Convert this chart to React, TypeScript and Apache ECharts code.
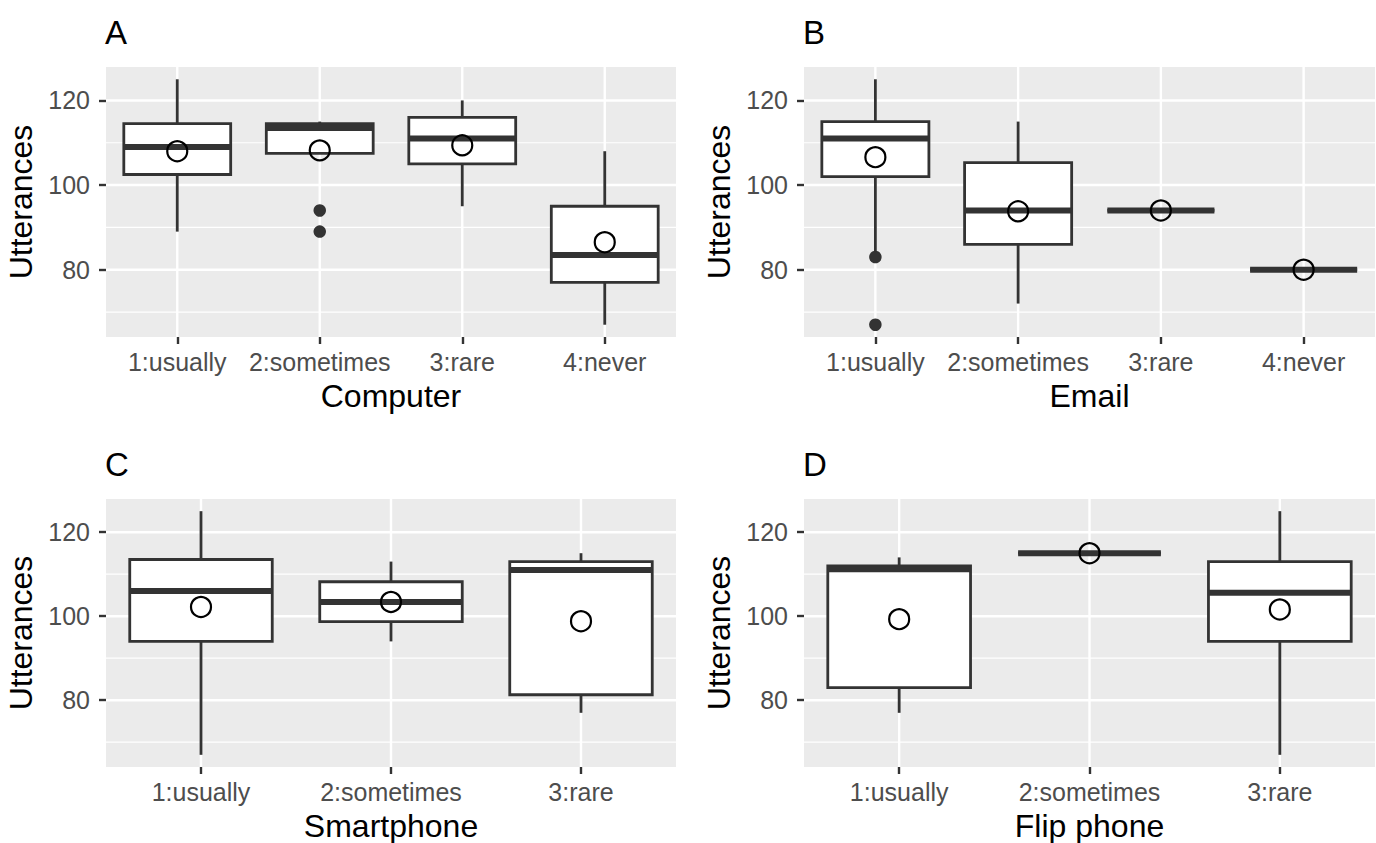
import React, { useEffect, useRef } from "react";
import * as echarts from "echarts";

// ---------- data ----------
const catsFour = ["1:usually", "2:sometimes", "3:rare", "4:never"];
const catsThree = ["1:usually", "2:sometimes", "3:rare"];

// box stats: [min, q1, median, q3, max]
const computerBoxes = [
  [89, 102.5, 109, 114.5, 125],
  [107.5, 107.5, 113.5, 114.5, 115],
  [95, 105, 111, 116, 120],
  [67, 77, 83.5, 95, 108],
];
const computerOutliers = [[1, 94], [1, 89]];
const computerMeans = [108, 108.2, 109.4, 86.5];

const emailBoxes = [
  [84, 102, 111, 115, 125],
  [72, 86, 94, 105.3, 115],
  [94, 94, 94, 94, 94],
  [80, 80, 80, 80, 80],
];
const emailOutliers = [[0, 83], [0, 67]];
const emailMeans = [106.6, 93.8, 94, 80];

const smartphoneBoxes = [
  [67, 94, 106, 113.5, 125],
  [94, 98.7, 103.4, 108.2, 113],
  [77, 81.3, 111, 113, 115],
];
const smartphoneOutliers: number[][] = [];
const smartphoneMeans = [102.2, 103.4, 98.8];

const flipBoxes = [
  [77, 83, 111.2, 112, 114],
  [115, 115, 115, 115, 115],
  [67, 94, 105.6, 113, 125],
];
const flipOutliers: number[][] = [];
const flipMeans = [99.3, 115, 101.6];

const yMajorTicks = [80, 100, 120];
const yMinorTicks = [70, 90, 110];
const yMin = 64.1;
const yMax = 127.9;

const FONT = "'Liberation Sans', Arial, Helvetica, sans-serif";
const DARK = "#333333";

function buildPanel(
  idx: number,
  cats: string[],
  boxes: number[][],
  outliers: number[][],
  means: number[],
  xName: string
) {
  const grid = {
    left: idx % 2 === 0 ? 106 : 804,
    top: idx < 2 ? 67 : 499,
    width: idx % 2 === 0 ? 570 : 571,
    height: 270,
    show: true,
    backgroundColor: "#EBEBEB",
    borderWidth: 0,
    containLabel: false,
  };
  const xAxis = {
    type: "category",
    gridIndex: idx,
    data: cats,
    axisLine: { show: false },
    axisTick: { show: true, alignWithLabel: true, length: 7, lineStyle: { color: DARK, width: 2.4 } },
    axisLabel: { color: "#4D4D4D", fontSize: 25, margin: 12, fontFamily: FONT, interval: 0 },
    splitLine: { show: false },
    name: xName,
    nameLocation: "middle",
    nameGap: 43,
    nameTextStyle: { fontSize: 32, color: "#000", fontFamily: FONT },
  };
  const yAxis = {
    type: "value",
    gridIndex: idx,
    min: yMin,
    max: yMax,
    axisLine: { show: false },
    axisTick: { show: true, length: 7, customValues: yMajorTicks, lineStyle: { color: DARK, width: 2.4 } },
    axisLabel: { color: "#4D4D4D", fontSize: 25, margin: 16, fontFamily: FONT, customValues: yMajorTicks },
    splitLine: { show: false },
    name: "Utterances",
    nameLocation: "middle",
    nameGap: 69,
    nameTextStyle: { fontSize: 32, color: "#000", fontFamily: FONT },
  };

  const hGridData = [
    ...yMinorTicks.map((v) => [0, v, 0]),
    ...yMajorTicks.map((v) => [0, v, 1]),
  ];
  const hGrid = {
    type: "custom",
    xAxisIndex: idx,
    yAxisIndex: idx,
    z: 1,
    silent: true,
    data: hGridData,
    encode: { x: 0, y: 1 },
    renderItem: (params: any, api: any) => {
      const y = api.coord([0, api.value(1)])[1];
      const cs = params.coordSys;
      const major = api.value(2) === 1;
      return {
        type: "line",
        shape: { x1: cs.x, y1: y, x2: cs.x + cs.width, y2: y },
        style: { stroke: "#FFFFFF", lineWidth: major ? 2.4 : 1.2 },
      };
    },
  };
  const vGrid = {
    type: "custom",
    xAxisIndex: idx,
    yAxisIndex: idx,
    z: 1,
    silent: true,
    data: cats.map((_, i) => [i, yMajorTicks[0]]),
    encode: { x: 0, y: 1 },
    renderItem: (params: any, api: any) => {
      const x = api.coord([api.value(0), api.value(1)])[0];
      const cs = params.coordSys;
      return {
        type: "line",
        shape: { x1: x, y1: cs.y, x2: x, y2: cs.y + cs.height },
        style: { stroke: "#FFFFFF", lineWidth: 2.4 },
      };
    },
  };
  const boxSeries = {
    type: "custom",
    xAxisIndex: idx,
    yAxisIndex: idx,
    z: 2,
    data: boxes.map((b, i) => [i, ...b]),
    encode: { x: 0, y: [1, 2, 3, 4, 5] },
    renderItem: (params: any, api: any) => {
      const i = api.value(0);
      const pMin = api.coord([i, api.value(1)]);
      const cx = pMin[0];
      const yLo = pMin[1];
      const yQ1 = api.coord([i, api.value(2)])[1];
      const yMed = api.coord([i, api.value(3)])[1];
      const yQ3 = api.coord([i, api.value(4)])[1];
      const yHi = api.coord([i, api.value(5)])[1];
      const hw = api.size([1, 0])[0] * 0.375;
      return {
        type: "group",
        children: [
          { type: "line", shape: { x1: cx, y1: yQ3, x2: cx, y2: yHi }, style: { stroke: DARK, lineWidth: 2.8 } },
          { type: "line", shape: { x1: cx, y1: yQ1, x2: cx, y2: yLo }, style: { stroke: DARK, lineWidth: 2.8 } },
          {
            type: "rect",
            shape: { x: cx - hw, y: yQ3, width: 2 * hw, height: yQ1 - yQ3 },
            style: { fill: "#FFFFFF", stroke: DARK, lineWidth: 2.8 },
          },
          { type: "line", shape: { x1: cx - hw, y1: yMed, x2: cx + hw, y2: yMed }, style: { stroke: DARK, lineWidth: 6 } },
        ],
      };
    },
  };
  const outlierSeries = {
    type: "scatter",
    xAxisIndex: idx,
    yAxisIndex: idx,
    z: 3,
    symbol: "circle",
    symbolSize: 12.5,
    itemStyle: { color: DARK, opacity: 1 },
    data: outliers,
  };
  const meanSeries = {
    type: "scatter",
    xAxisIndex: idx,
    yAxisIndex: idx,
    z: 4,
    symbol: "circle",
    symbolSize: 20,
    itemStyle: { color: "rgba(0,0,0,0)", borderColor: "#000", borderWidth: 2.2, opacity: 1 },
    data: means.map((m, i) => [i, m]),
  };
  return { grid, xAxis, yAxis, series: [hGrid, vGrid, boxSeries, outlierSeries, meanSeries] };
}

export default function App() {
  const ref = useRef<HTMLDivElement>(null);
  useEffect(() => {
    if (!ref.current) return;
    const chart = echarts.init(ref.current, undefined, { renderer: "svg" });
    const panels = [
      buildPanel(0, catsFour, computerBoxes, computerOutliers, computerMeans, "Computer"),
      buildPanel(1, catsFour, emailBoxes, emailOutliers, emailMeans, "Email"),
      buildPanel(2, catsThree, smartphoneBoxes, smartphoneOutliers, smartphoneMeans, "Smartphone"),
      buildPanel(3, catsThree, flipBoxes, flipOutliers, flipMeans, "Flip phone"),
    ];
    const letters = ["A", "B", "C", "D"];
    chart.setOption({
      animation: false,
      backgroundColor: "#FFFFFF",
      textStyle: { fontFamily: FONT },
      title: letters.map((t, i) => ({
        text: t,
        left: i % 2 === 0 ? 105 : 803,
        top: i < 2 ? 16 : 448,
        padding: 0,
        textStyle: { fontSize: 33, fontWeight: "normal", color: "#000", fontFamily: FONT },
      })),
      grid: panels.map((p) => p.grid),
      xAxis: panels.map((p) => p.xAxis),
      yAxis: panels.map((p) => p.yAxis),
      series: panels.flatMap((p) => p.series),
    });
    return () => chart.dispose();
  }, []);
  return (
    <div
      ref={ref}
      style={{ position: "fixed", left: 0, top: 0, width: 1376, height: 843, background: "#fff" }}
    />
  );
}
